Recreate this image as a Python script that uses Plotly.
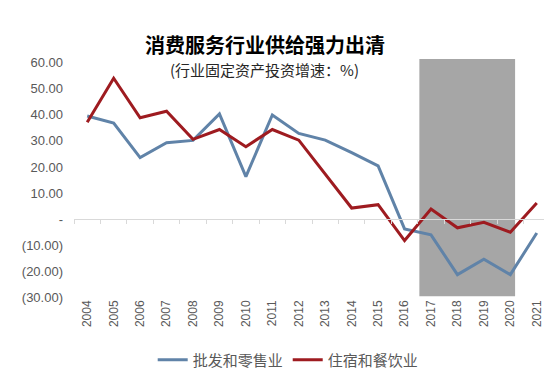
import plotly.graph_objects as go

years = list(range(2004, 2022))
retail = [39.6, 36.9, 23.6, 29.3, 30.2, 40.4, 16.3, 40.0, 32.9, 30.3, 25.5, 20.4, -3.8, -6.1, -21.4, -15.5, -21.4, -5.4]
catering = [37.2, 54.1, 38.9, 41.4, 30.6, 34.4, 27.8, 34.4, 30.3, 17.2, 4.2, 5.5, -8.3, 3.8, -3.4, -1.3, -5.1, 6.1]
series_names = ["批发和零售业", "住宿和餐饮业"]
y_ticks = [60, 50, 40, 30, 20, 10, 0, -10, -20, -30]
y_ticklabels = ["60.00", "50.00", "40.00", "30.00", "20.00", "10.00", "-", "(10.00)", "(20.00)", "(30.00)"]
shade_years = (2017, 2020)

title = "消费服务行业供给强力出清"
subtitle = "(行业固定资产投资增速：%)"

YMIN, YMAX = -30, 61.5
XMIN, XMAX = years[0] - 0.5, years[-1] + 0.5
GREY = "#595959"

fig = go.Figure()
fig.add_trace(go.Scatter(x=years, y=retail, mode="lines", name=series_names[0],
                         line=dict(color="#6083A8", width=3)))
fig.add_trace(go.Scatter(x=years, y=catering, mode="lines", name=series_names[1],
                         line=dict(color="#9E1B20", width=3)))

fig.add_shape(type="rect", xref="x", yref="y",
              x0=shade_years[0] - 0.44, x1=shade_years[1] + 0.18,
              y0=YMIN + 0.3, y1=YMAX,
              fillcolor="#A6A6A6", line=dict(width=0), layer="below")

zero_pos = (0 - YMIN) / (YMAX - YMIN)

# page body has an 8px default margin, so the figure is 8px smaller
fig.update_layout(
    width=544, height=375,
    margin=dict(l=66, r=2, t=51, b=86, autoexpand=False),
    paper_bgcolor="white", plot_bgcolor="white",
    font=dict(family="Noto Sans CJK SC, Liberation Sans", color=GREY),
    showlegend=True,
    legend=dict(orientation="h", x=0.45, xanchor="center", y=-0.265, yanchor="middle",
                font=dict(size=15, color=GREY, family="Noto Sans CJK SC"),
                itemwidth=30, tracegroupgap=0, bgcolor="rgba(0,0,0,0)"),
    xaxis=dict(range=[XMIN, XMAX], tickmode="array", tickvals=years,
               ticktext=[str(y) for y in years], tickangle=-90,
               tickfont=dict(size=12, color=GREY, family="Liberation Sans"),
               showgrid=False, zeroline=False, showline=False, ticks="",
               anchor="y", automargin=False),
    xaxis2=dict(range=[XMIN, XMAX], overlaying="x", anchor="free", position=zero_pos,
                tickmode="array", tickvals=[y - 0.5 for y in years] + [years[-1] + 0.5],
                showticklabels=False, ticks="outside", ticklen=4, tickcolor="#D9D9D9",
                showline=True, linecolor="#D9D9D9", linewidth=1,
                showgrid=False, zeroline=False, automargin=False),
    yaxis=dict(range=[YMIN, YMAX], tickmode="array", tickvals=y_ticks, ticktext=y_ticklabels,
               tickfont=dict(size=13, color=GREY, family="Liberation Sans"),
               showgrid=False, zeroline=False, showline=False, ticks="",
               ticklabelstandoff=10, automargin=False),
    annotations=[
        dict(text="<b>" + title + "</b>", xref="paper", yref="paper", x=0.401, y=1.063,
             xanchor="center", yanchor="middle", showarrow=False,
             font=dict(size=20, color="black", family="Noto Sans CJK SC")),
        dict(text=subtitle, xref="paper", yref="paper", x=0.401, y=0.954,
             xanchor="center", yanchor="middle", showarrow=False,
             font=dict(size=15, color="#262626", family="Noto Sans CJK SC")),
    ],
)
fig.add_trace(go.Scatter(x=[XMIN], y=[None], xaxis="x2", yaxis="y", showlegend=False,
                         hoverinfo="skip", mode="lines"))

fig.write_html("out.html")
